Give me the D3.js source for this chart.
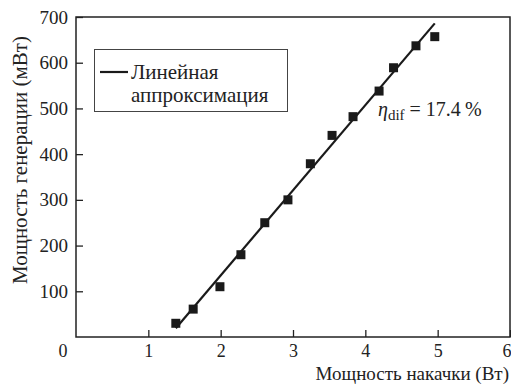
<!DOCTYPE html>
<html lang="ru">
<head>
<meta charset="UTF-8">
<title>Мощность генерации</title>
<script src="https://cdn.jsdelivr.net/npm/d3@7"></script>
<style>
  body { margin: 0; background: #fff; }
  svg text { font-family: "Liberation Serif", "Times New Roman", Times, "DejaVu Serif", "Noto Serif", serif !important; fill: #222; }
</style>
</head>
<body>
<script>
// measured points (pump power, W ; output power, mW)
const pump = [1.38, 1.62, 1.99, 2.28, 2.61, 2.93, 3.24, 3.54, 3.83, 4.19, 4.39, 4.70, 4.96];
const outPower = [30, 61, 110, 180, 250, 300, 379, 441, 482, 538, 589, 637, 657];
// linear fit end points
const fitX = [1.38, 4.96];
const fitY = [19, 686];
const xTicks = [1, 2, 3, 4, 5, 6];
const yTicks = [100, 200, 300, 400, 500, 600, 700];

const width = 511, height = 385;
const margin = {left: 76, right: 1, top: 17, bottom: 48};

const svg = d3.select("body").append("svg")
  .attr("width", width)
  .attr("height", height);

const x = d3.scaleLinear().domain([0, 6]).range([margin.left, width - margin.right]);
const y = d3.scaleLinear().domain([0, 700]).range([height - margin.bottom, margin.top]);

// frame
svg.append("rect")
  .attr("x", x(0)).attr("y", y(700))
  .attr("width", x(6) - x(0)).attr("height", y(0) - y(700))
  .attr("fill", "none").attr("stroke", "#222").attr("stroke-width", 1.5);

const xAxis = svg.append("g")
  .attr("transform", `translate(0,${y(0)})`)
  .call(d3.axisBottom(x).tickValues(xTicks).tickSize(-7).tickPadding(7).tickFormat(d3.format("d")));
const yAxis = svg.append("g")
  .attr("transform", `translate(${x(0)},0)`)
  .call(d3.axisLeft(y).tickValues(yTicks).tickSize(-7).tickPadding(8).tickFormat(d3.format("d")));

[xAxis, yAxis].forEach(g => {
  g.attr("font-family", null);
  g.select(".domain").remove();
  g.selectAll(".tick line").attr("stroke", "#222").attr("stroke-width", 1.3);
  g.selectAll(".tick text").style("font-size", "19px").attr("fill", "#222");
});
xAxis.selectAll(".tick text").style("font-size", "18px");
// last x label sits on the window edge: keep it inside
xAxis.selectAll(".tick text").filter(d => d === 6).attr("text-anchor", "end").attr("dx", 1);

// shared origin label
svg.append("text")
  .attr("x", 63).attr("y", 357)
  .attr("text-anchor", "middle")
  .style("font-size", "18px")
  .text("0");

// axis titles
svg.append("text")
  .attr("x", 509).attr("y", 380)
  .attr("text-anchor", "end")
  .style("font-size", "19px")
  .text("Мощность накачки (Вт)");

svg.append("text")
  .attr("transform", "translate(27,160) rotate(-90)")
  .attr("text-anchor", "middle")
  .style("font-size", "21px")
  .text("Мощность генерации (мВт)");

// fit line
svg.append("line")
  .attr("x1", x(fitX[0])).attr("y1", y(fitY[0]))
  .attr("x2", x(fitX[1])).attr("y2", y(fitY[1]))
  .attr("stroke", "#1a1a1a").attr("stroke-width", 2.2);

// points
const s = 9;
svg.selectAll("rect.pt")
  .data(pump.map((p, i) => [p, outPower[i]]))
  .enter().append("rect")
  .attr("class", "pt")
  .attr("x", d => x(d[0]) - s / 2)
  .attr("y", d => y(d[1]) - s / 2)
  .attr("width", s).attr("height", s)
  .attr("fill", "#1a1a1a");

// legend
const leg = svg.append("g");
leg.append("rect")
  .attr("x", 94.5).attr("y", 49.5).attr("width", 193).attr("height", 62)
  .attr("fill", "#fff").attr("stroke", "#444").attr("stroke-width", 1);
leg.append("line")
  .attr("x1", 100).attr("x2", 128).attr("y1", 72).attr("y2", 72)
  .attr("stroke", "#1a1a1a").attr("stroke-width", 2.2);
leg.append("text").attr("x", 131).attr("y", 79).style("font-size", "21px").text("Линейная");
leg.append("text").attr("x", 131).attr("y", 102).style("font-size", "21px").text("аппроксимация");

// annotation
const ann = svg.append("text").attr("x", 378).attr("y", 116).style("font-size", "20px");
ann.append("tspan").style("font-style", "italic").text("η");
ann.append("tspan").attr("dy", 4).style("font-size", "15px").text("dif");
ann.append("tspan").attr("dy", -4).text(" = 17.4\u2009%");
</script>
</body>
</html>
